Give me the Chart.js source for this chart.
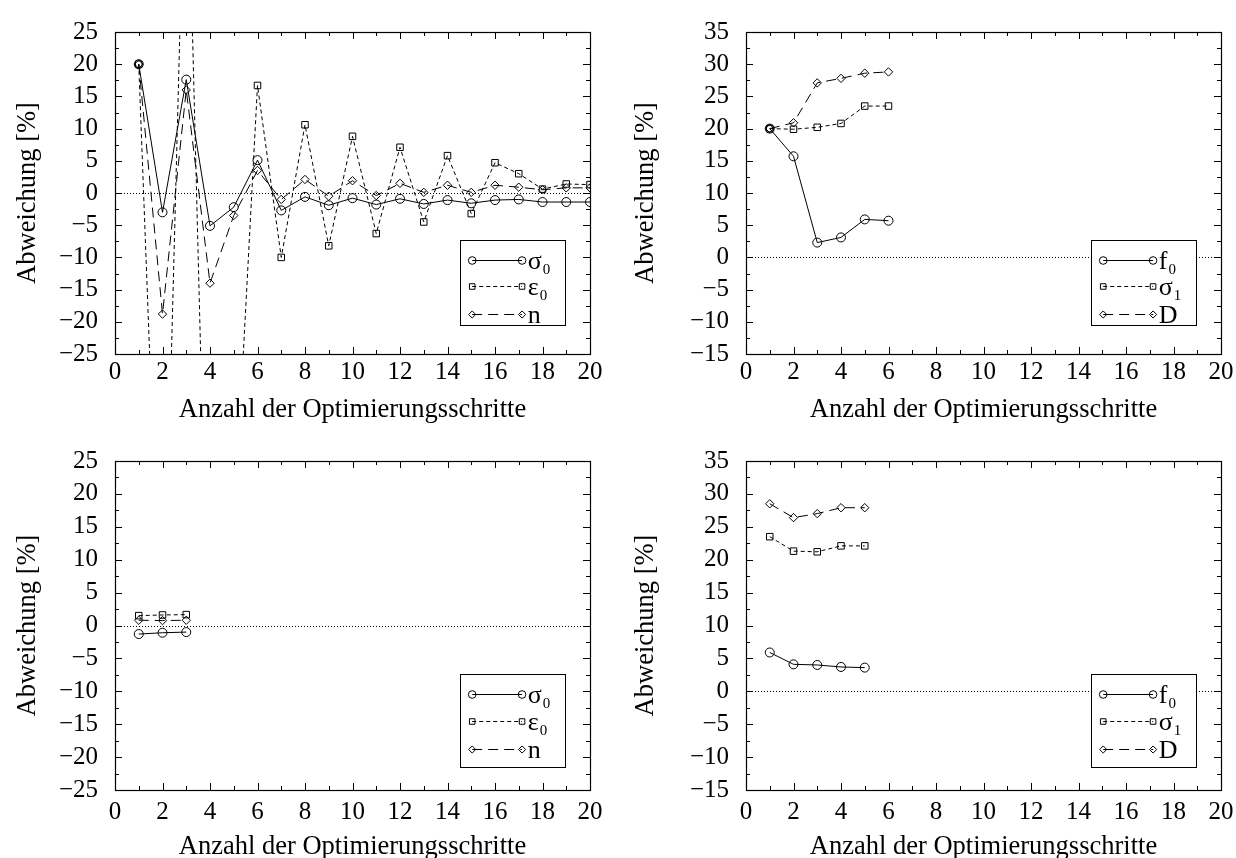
<!DOCTYPE html>
<html>
<head>
<meta charset="utf-8">
<script src="https://cdn.jsdelivr.net/npm/chart.js@4.4.1/dist/chart.umd.min.js"></script>
<style>
  html, body { margin: 0; padding: 0; background: #fff; overflow: hidden; }
  .panel { position: absolute; width: 618px; }
</style>
</head>
<body>
<div class="panel" style="left:0;top:0;height:429px"><canvas id="c1" width="618" height="429"></canvas></div>
<div class="panel" style="left:618px;top:0;height:429px"><canvas id="c2" width="618" height="429"></canvas></div>
<div class="panel" style="left:0;top:429px;height:440px"><canvas id="c3" width="618" height="440"></canvas></div>
<div class="panel" style="left:618px;top:429px;height:440px"><canvas id="c4" width="618" height="440"></canvas></div>
<script>
// ---- data ----
const xTicks = [0, 2, 4, 6, 8, 10, 12, 14, 16, 18, 20];
const yTicksA = [-25, -20, -15, -10, -5, 0, 5, 10, 15, 20, 25];
const yTicksB = [-15, -10, -5, 0, 5, 10, 15, 20, 25, 30, 35];

// top left: sigma0 / eps0 / n, 20 steps
const stepsA = [1, 2, 3, 4, 5, 6, 7, 8, 9, 10, 11, 12, 13, 14, 15, 16, 17, 18, 19, 20];
const sigma0A = [20, -3.0, 17.6, -5.1, -2.2, 5.1, -2.7, -0.6, -1.9, -0.8, -1.8, -0.9, -1.7, -1.1, -1.6, -1.1, -1.0, -1.4, -1.4, -1.4];
const eps0A = [20, -78, 63, -82, -53, 16.7, -10.0, 10.6, -8.2, 8.8, -6.3, 7.1, -4.5, 5.8, -3.2, 4.7, 3.0, 0.6, 1.4, 1.3];
const nA = [20, -18.8, 16.0, -14.0, -3.5, 3.5, -1.0, 2.1, -0.5, 1.9, -0.4, 1.5, 0.1, 1.2, 0.1, 1.2, 0.9, 0.5, 0.8, 0.8];

// top right: f0 / sigma1 / D, 6 steps
const stepsB = [1, 2, 3, 4, 5, 6];
const f0B = [20, 15.7, 2.3, 3.1, 5.9, 5.7];
const sigma1B = [20, 19.9, 20.2, 20.8, 23.5, 23.5];
const dB = [20, 20.9, 27.1, 27.8, 28.6, 28.8];

// bottom left: 3 steps
const stepsC = [1, 2, 3];
const sigma0C = [-1.3, -1.1, -1.0];
const eps0C = [1.5, 1.6, 1.65];
const nC = [0.8, 0.75, 0.8];

// bottom right: 5 steps
const stepsD = [1, 2, 3, 4, 5];
const f0D = [5.9, 4.1, 4.0, 3.7, 3.6];
const sigma1D = [23.5, 21.3, 21.2, 22.1, 22.1];
const dD = [28.5, 26.4, 27.0, 27.9, 27.9];

const labelsA = [['σ', '0'], ['ε', '0'], ['n', '']];
const labelsB = [['f', '0'], ['σ', '1'], ['D', '']];

const xTitle = 'Anzahl der Optimierungsschritte';
const yTitle = 'Abweichung [%]';

// ---- styling ----
const FONT = 'Liberation Serif, Times New Roman, serif';
const INK = '#000';
const TICK_SIZE = 25, TITLE_SIZE = 26.5;
const lineStyles = [
  { dash: [], point: 'circle', radius: 4.5 },
  { dash: [4, 3], point: 'rect', radius: 4.6 },
  { dash: [10, 6], point: 'rectRot', radius: 4.2 }
];

function toPoints(xs, ys) {
  return xs.map((x, i) => ({ x: x, y: ys[i] }));
}

function makeDatasets(xs, series, names) {
  return series.map((ys, i) => ({
    label: names[i].join(''),
    data: toPoints(xs, ys),
    borderColor: INK,
    borderWidth: 1,
    borderDash: lineStyles[i].dash,
    pointStyle: lineStyles[i].point,
    pointRadius: lineStyles[i].radius,
    pointBorderColor: INK,
    pointBorderWidth: 1,
    pointBackgroundColor: 'rgba(0,0,0,0)',
    tension: 0,
    fill: false
  }));
}

// dotted zero line
const zeroLine = {
  id: 'zeroLine',
  beforeDatasetsDraw(chart) {
    const { ctx, chartArea: a, scales: { y } } = chart;
    const py = Math.round(y.getPixelForValue(0)) + 0.5;
    ctx.save();
    ctx.strokeStyle = INK;
    ctx.lineWidth = 1;
    ctx.setLineDash([1, 2]);
    ctx.beginPath();
    ctx.moveTo(a.left, py);
    ctx.lineTo(a.right, py);
    ctx.stroke();
    ctx.restore();
  }
};

// frame with inward major + minor ticks on all four sides
const frameTicks = {
  id: 'frameTicks',
  afterDatasetsDraw(chart) {
    const { ctx, chartArea: a, scales: { x, y } } = chart;
    const major = 7, minor = 4;
    ctx.save();
    ctx.strokeStyle = INK;
    ctx.lineWidth = 1;
    ctx.setLineDash([]);
    ctx.beginPath();
    const xv = x.ticks.map(t => t.value);
    xv.forEach((v, i) => {
      const px = Math.round(x.getPixelForValue(v)) + 0.5;
      ctx.moveTo(px, a.bottom); ctx.lineTo(px, a.bottom - major);
      ctx.moveTo(px, a.top); ctx.lineTo(px, a.top + major);
      if (i < xv.length - 1) {
        const mx = Math.round(x.getPixelForValue((v + xv[i + 1]) / 2)) + 0.5;
        ctx.moveTo(mx, a.bottom); ctx.lineTo(mx, a.bottom - minor);
        ctx.moveTo(mx, a.top); ctx.lineTo(mx, a.top + minor);
      }
    });
    const yv = y.ticks.map(t => t.value);
    yv.forEach((v, i) => {
      const py = Math.round(y.getPixelForValue(v)) + 0.5;
      ctx.moveTo(a.left, py); ctx.lineTo(a.left + major, py);
      ctx.moveTo(a.right, py); ctx.lineTo(a.right - major, py);
      if (i < yv.length - 1) {
        const my = Math.round(y.getPixelForValue((v + yv[i + 1]) / 2)) + 0.5;
        ctx.moveTo(a.left, my); ctx.lineTo(a.left + minor, my);
        ctx.moveTo(a.right, my); ctx.lineTo(a.right - minor, my);
      }
    });
    ctx.stroke();
    ctx.lineWidth = 1.2;
    ctx.strokeRect(Math.round(a.left) + 0.5, Math.round(a.top) + 0.5,
      Math.round(a.right - a.left), Math.round(a.bottom - a.top));
    ctx.restore();
  }
};

// gnuplot-like key box in the lower right of the plot
const keyBox = {
  id: 'keyBox',
  afterDraw(chart, args, opts) {
    const { ctx, chartArea: a } = chart;
    const w = a.right - a.left, h = a.bottom - a.top;
    const bx0 = Math.round(a.left + w * 0.726) + 0.5;
    const bx1 = Math.round(a.left + w * 0.947) + 0.5;
    const by0 = Math.round(a.top + h * 0.646) + 0.5;
    const by1 = Math.round(a.top + h * opts.bottomFrac) + 0.5;
    ctx.save();
    ctx.fillStyle = '#fff';
    ctx.fillRect(bx0, by0, bx1 - bx0, by1 - by0);
    ctx.strokeStyle = INK;
    ctx.lineWidth = 1;
    ctx.strokeRect(bx0, by0, bx1 - bx0, by1 - by0);
    const rows = [0.707, 0.79, 0.876];
    const sx0 = a.left + w * 0.752, sx1 = a.left + w * 0.857, tx = a.left + w * 0.869;
    chart.data.datasets.forEach((ds, i) => {
      const yy = Math.round(a.top + h * rows[i]) + 0.5;
      ctx.strokeStyle = INK;
      ctx.setLineDash(ds.borderDash);
      ctx.lineWidth = 1;
      ctx.beginPath();
      ctx.moveTo(sx0, yy);
      ctx.lineTo(sx1, yy);
      ctx.stroke();
      ctx.setLineDash([]);
      ctx.fillStyle = 'rgba(0,0,0,0)';
      [sx0, sx1].forEach(px => Chart.helpers.drawPoint(ctx, {
        pointStyle: ds.pointStyle, radius: ds.pointRadius * 0.85, rotation: 0, borderWidth: 1
      }, px, yy));
      const [base, sub] = opts.labels[i];
      ctx.fillStyle = INK;
      ctx.textBaseline = 'alphabetic';
      ctx.textAlign = 'left';
      ctx.font = '26px ' + FONT;
      ctx.fillText(base, tx, yy + 8);
      if (sub) {
        const bw = ctx.measureText(base).width;
        ctx.font = '15px ' + FONT;
        ctx.fillText(sub, tx + bw + 1, yy + 13);
      }
    });
    ctx.restore();
  }
};

function minusLabel(v) {
  return String(v).replace('-', '\u2212');
}

function makeChart(id, xs, series, names, yTicks, box) {
  const canvas = document.getElementById(id);
  return new Chart(canvas, {
    type: 'line',
    data: { datasets: makeDatasets(xs, series, names) },
    options: {
      responsive: false,
      animation: false,
      events: [],
      layout: { padding: { top: box.top, right: box.right, left: 0, bottom: 0 } },
      plugins: {
        legend: { display: false },
        tooltip: { enabled: false },
        keyBox: { labels: names, bottomFrac: box.keyBottom }
      },
      scales: {
        x: {
          type: 'linear',
          min: xTicks[0],
          max: xTicks[xTicks.length - 1],
          afterBuildTicks: s => { s.ticks = xTicks.map(v => ({ value: v })); },
          afterFit: s => { s.height = box.xAxisH; s.paddingRight = 12; },
          grid: { display: false, drawTicks: false },
          border: { display: false },
          ticks: {
            color: INK, padding: box.xTickPad, maxRotation: 0, autoSkip: false,
            font: { family: FONT, size: TICK_SIZE },
            callback: minusLabel
          },
          title: {
            display: true, text: xTitle, color: INK,
            font: { family: FONT, size: TITLE_SIZE },
            padding: { top: 0, bottom: box.xTitlePad }
          }
        },
        y: {
          type: 'linear',
          min: yTicks[0],
          max: yTicks[yTicks.length - 1],
          afterBuildTicks: s => { s.ticks = yTicks.map(v => ({ value: v })); },
          afterFit: s => { s.width = box.yAxisW; },
          grid: { display: false, drawTicks: false },
          border: { display: false },
          ticks: {
            color: INK, padding: 17, autoSkip: false,
            font: { family: FONT, size: TICK_SIZE },
            callback: minusLabel
          },
          title: {
            display: true, text: yTitle, color: INK,
            font: { family: FONT, size: TITLE_SIZE },
            padding: { top: 12, bottom: 0 }
          }
        }
      }
    },
    plugins: [zeroLine, frameTicks, keyBox]
  });
}

const topBox = { top: 22, xAxisH: 75, xTickPad: 3, xTitlePad: 3, keyBottom: 0.91 };
const botBox = { top: 32, xAxisH: 79, xTickPad: 7, xTitlePad: 6, keyBottom: 0.93 };

makeChart('c1', stepsA, [sigma0A, eps0A, nA], labelsA, yTicksA,
  Object.assign({}, topBox, { right: 28, yAxisW: 115 }));
makeChart('c2', stepsB, [f0B, sigma1B, dB], labelsB, yTicksB,
  Object.assign({}, topBox, { right: 15, yAxisW: 128 }));
makeChart('c3', stepsC, [sigma0C, eps0C, nC], labelsA, yTicksA,
  Object.assign({}, botBox, { right: 28, yAxisW: 115 }));
makeChart('c4', stepsD, [f0D, sigma1D, dD], labelsB, yTicksB,
  Object.assign({}, botBox, { right: 15, yAxisW: 128 }));
</script>
</body>
</html>
